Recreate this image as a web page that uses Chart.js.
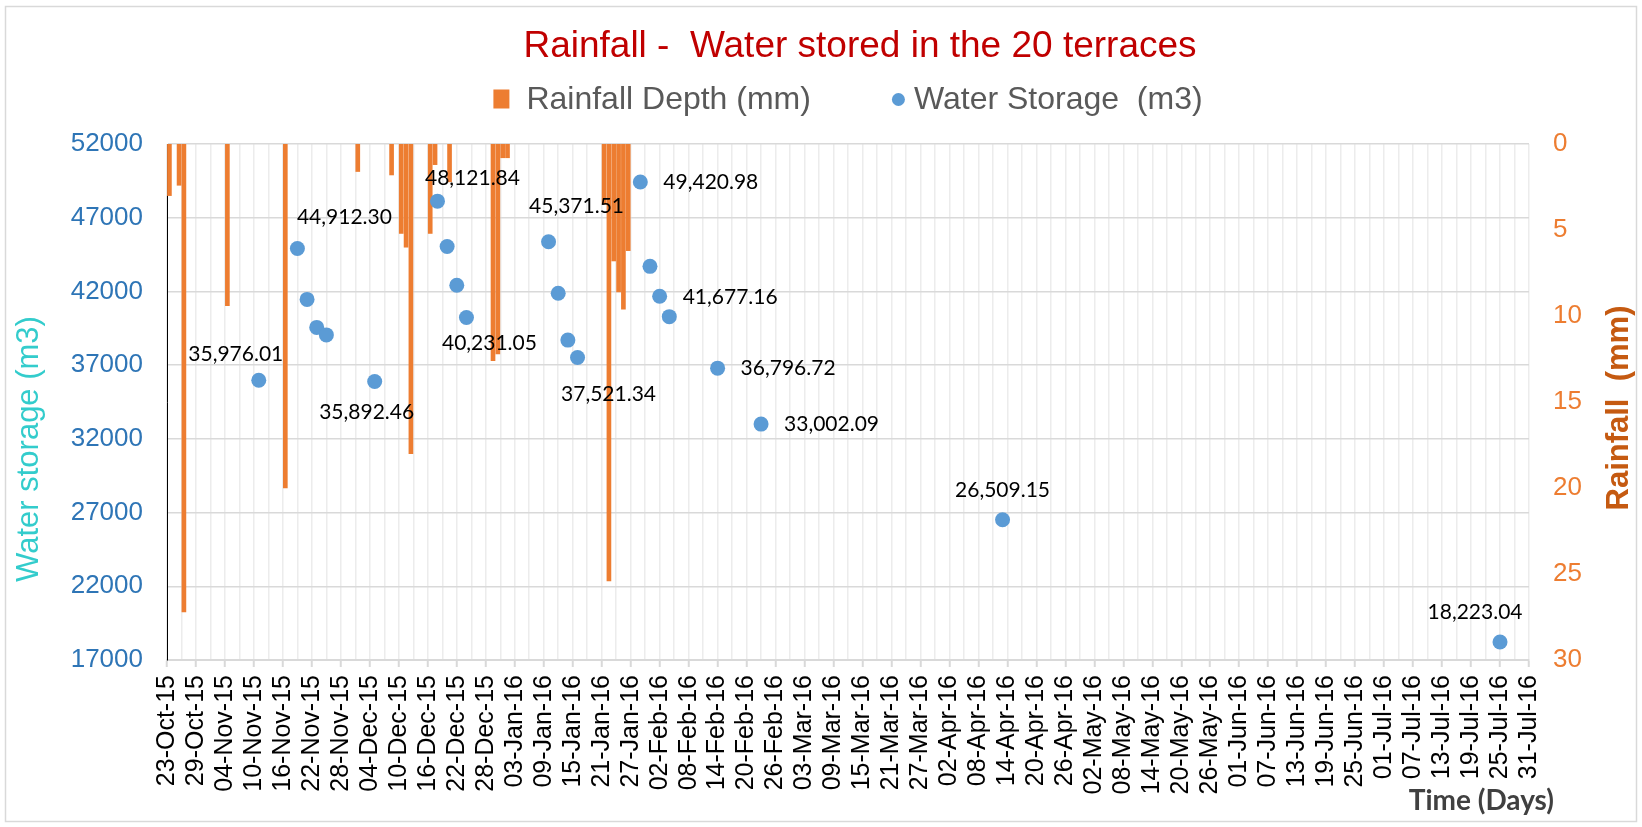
<!DOCTYPE html>
<html>
<head>
<meta charset="utf-8">
<script src="https://cdn.jsdelivr.net/npm/chart.js@4"></script>
<style>
  html, body { margin: 0; padding: 0; background: #ffffff; }
  #wrap { width: 1642px; height: 827px; }
</style>
</head>
<body>
<div id="wrap"><canvas id="myChart" width="1642" height="827"></canvas></div>
<script>
// --- data ---
var startDate = '2015-10-23';
var endDate = '2016-07-31';
var monthNames = ['Jan', 'Feb', 'Mar', 'Apr', 'May', 'Jun', 'Jul', 'Aug', 'Sep', 'Oct', 'Nov', 'Dec'];

var rainDates = ['2015-10-23', '2015-10-25', '2015-10-26', '2015-11-04', '2015-11-16',
    '2015-12-01', '2015-12-08', '2015-12-10', '2015-12-11', '2015-12-12', '2015-12-16',
    '2015-12-17', '2015-12-20', '2015-12-29', '2015-12-30', '2015-12-31', '2016-01-01',
    '2016-01-21', '2016-01-22', '2016-01-23', '2016-01-24', '2016-01-25', '2016-01-26'];
var rainDepth = [3.0, 2.4, 27.2, 9.4, 20.0,
    1.6, 1.8, 5.2, 6.0, 18.0, 5.2,
    1.2, 2.2, 12.6, 12.2, 0.8, 0.8,
    3.5, 25.4, 6.8, 8.6, 9.6, 6.2];

var storageDates = ['2015-11-11', '2015-11-19', '2015-11-21', '2015-11-23', '2015-11-25',
    '2015-12-05', '2015-12-18', '2015-12-20', '2015-12-22', '2015-12-24',
    '2016-01-10', '2016-01-12', '2016-01-14', '2016-01-16',
    '2016-01-29', '2016-01-31', '2016-02-02', '2016-02-04',
    '2016-02-14', '2016-02-23', '2016-04-13', '2016-07-25'];
var storageValues = [35976.01, 44912.30, 41460, 39560, 39050,
    35892.46, 48121.84, 45050, 42420, 40231.05,
    45371.51, 41880, 38700, 37521.34,
    49420.98, 43700, 41677.16, 40290,
    36796.72, 33002.09, 26509.15, 18223.04];

// which points carry a value label, and where it sits (dx, dy, align)
var labelPlacement = {
    0: [-23, -26, 'center'], 1: [47, -31, 'center'], 5: [-8, 31, 'center'],
    6: [35, -23, 'center'], 9: [23, 26, 'center'], 10: [28, -35, 'center'],
    13: [31, 37, 'center'], 14: [23, 0, 'left'], 16: [23, 1, 'left'],
    18: [23, 0, 'left'], 19: [23, 0, 'left'], 20: [0, -30, 'center'],
    21: [-25, -30, 'center']
};

var storageTicks = [17000, 52000, 5000];   // min, max, step
var rainTicks = [0, 30, 5];
var dayStep = 3;        // grid every 3 days, label every 6
var labelEvery = 6;

var titleText = 'Rainfall -  Water stored in the 20 terraces';
var legendLabels = ['Rainfall Depth (mm)', 'Water Storage  (m3)'];
var leftTitle = 'Water storage (m3)';
var rightTitle = 'Rainfall  (mm)';
var xTitle = 'Time (Days)';

var ARIAL = '"Liberation Sans", Arial, sans-serif';
var LATO = 'Lato, "Open Sans", sans-serif';

function utc(s) {
    var p = s.split('-');
    return Date.UTC(+p[0], +p[1] - 1, +p[2]);
}
function dayOf(s) {
    return Math.round((utc(s) - utc(startDate)) / 86400000);
}
function fmtDay(v) {
    var d = new Date(utc(startDate) + v * 86400000);
    var dd = ('0' + d.getUTCDate()).slice(-2);
    var yy = ('' + d.getUTCFullYear()).slice(-2);
    return dd + '-' + monthNames[d.getUTCMonth()] + '-' + yy;
}
function fmtVal(v) {
    return v.toLocaleString('en-US', {minimumFractionDigits: 2, maximumFractionDigits: 2});
}

// daily totals sit in the middle of their day
var rainPoints = rainDates.map(function (d, i) { return {x: dayOf(d) + 0.5, y: rainDepth[i]}; });
var storagePoints = storageDates.map(function (d, i) { return {x: dayOf(d), y: storageValues[i]}; });

var decor = {
    id: 'decor',
    beforeDraw: function (chart) {
        var ctx = chart.ctx;
        ctx.save();
        ctx.fillStyle = '#ffffff';
        ctx.fillRect(0, 0, chart.width, chart.height);
        ctx.strokeStyle = '#d9d9d9';
        ctx.lineWidth = 1.5;
        ctx.strokeRect(5.5, 6.5, chart.width - 11, chart.height - 12);
        ctx.restore();
    },
    afterDatasetsDraw: function (chart) {
        var ctx = chart.ctx;
        var meta = chart.getDatasetMeta(1);
        ctx.save();
        ctx.font = '21px ' + LATO;
        ctx.fillStyle = '#000000';
        ctx.textBaseline = 'middle';
        Object.keys(labelPlacement).forEach(function (k) {
            var pt = meta.data[+k];
            var pl = labelPlacement[k];
            ctx.textAlign = pl[2];
            ctx.fillText(fmtVal(storageValues[+k]), pt.x + pl[0], pt.y + pl[1]);
        });
        ctx.restore();
    },
    afterDraw: function (chart) {
        var ctx = chart.ctx;
        var area = chart.chartArea;
        var cx = (area.left + area.right) / 2;
        ctx.save();

        // title
        ctx.font = '37px ' + ARIAL;
        ctx.fillStyle = '#c00000';
        ctx.textAlign = 'center';
        ctx.textBaseline = 'alphabetic';
        ctx.fillText(titleText, cx + 12, 57);

        // legend
        ctx.font = '32px ' + ARIAL;
        ctx.textAlign = 'left';
        ctx.textBaseline = 'middle';
        var w1 = ctx.measureText(legendLabels[0]).width;
        var w2 = ctx.measureText(legendLabels[1]).width;
        var total = 16 + 17 + w1 + 81 + 13 + 9 + w2;
        var x = cx - total / 2;
        var ly = 99;
        ctx.fillStyle = chart.data.datasets[0].backgroundColor;
        ctx.fillRect(x, ly - 9.5, 16, 19);
        x += 33;
        ctx.fillStyle = '#595959';
        ctx.fillText(legendLabels[0], x, ly + 1);
        x += w1 + 81;
        ctx.fillStyle = chart.data.datasets[1].backgroundColor;
        ctx.beginPath();
        ctx.arc(x + 6.5, ly + 0.5, 6.5, 0, 2 * Math.PI);
        ctx.fill();
        x += 22;
        ctx.fillStyle = '#595959';
        ctx.fillText(legendLabels[1], x, ly + 1);

        // axis titles
        ctx.textAlign = 'center';
        ctx.save();
        ctx.translate(29, 449);
        ctx.rotate(-Math.PI / 2);
        ctx.font = '31px ' + ARIAL;
        ctx.fillStyle = '#33cccc';
        ctx.fillText(leftTitle, 0, 0);
        ctx.restore();

        ctx.save();
        ctx.translate(area.right + 90, 408);
        ctx.rotate(-Math.PI / 2);
        ctx.font = 'bold 31px ' + ARIAL;
        ctx.fillStyle = '#c55a11';
        ctx.fillText(rightTitle, 0, 0);
        ctx.restore();

        ctx.font = 'bold 28px ' + LATO;
        ctx.fillStyle = '#404040';
        ctx.textAlign = 'right';
        ctx.fillText(xTitle, area.right + 25, 801);
        ctx.restore();
    }
};

var ctx = document.getElementById('myChart').getContext('2d');

var chart = new Chart(ctx, {
    type: 'scatter',
    data: {
        datasets: [{
            type: 'bar',
            label: legendLabels[0],
            data: rainPoints,
            xAxisID: 'x',
            yAxisID: 'y2',
            backgroundColor: '#ed7d31',
            barThickness: 4,
            order: 2
        }, {
            type: 'scatter',
            label: legendLabels[1],
            data: storagePoints,
            xAxisID: 'x',
            yAxisID: 'y1',
            backgroundColor: '#5b9bd5',
            borderWidth: 0,
            pointRadius: 7.5,
            pointHoverRadius: 7.5,
            order: 1
        }]
    },
    options: {
        responsive: false,
        animation: false,
        events: [],
        layout: { padding: { top: 144, left: 0, right: 0, bottom: 0 } },
        plugins: {
            legend: { display: false },
            title: { display: false },
            tooltip: { enabled: false }
        },
        scales: {
            x: {
                type: 'linear',
                position: 'bottom',
                min: 0,
                max: dayOf(endDate),
                offset: false,
                afterFit: function (axis) { axis.height = 167; },
                ticks: {
                    stepSize: dayStep,
                    autoSkip: false,
                    minRotation: 90,
                    maxRotation: 90,
                    padding: 8,
                    color: '#000000',
                    font: { family: ARIAL, size: 25 },
                    callback: function (v) { return v % labelEvery === 0 ? fmtDay(v) : ''; }
                },
                grid: {
                    color: '#ececec',
                    lineWidth: 1.5,
                    offset: false,
                    drawTicks: true,
                    tickLength: 7,
                    tickWidth: 2,
                    tickColor: function (c) {
                        return c.tick && c.tick.value % labelEvery === 0 ? '#d9d9d9' : 'rgba(0,0,0,0)';
                    }
                },
                border: { display: true, color: '#d9d9d9', width: 2 }
            },
            y1: {
                type: 'linear',
                position: 'left',
                min: storageTicks[0],
                max: storageTicks[1],
                afterFit: function (axis) { axis.width = 167; },
                ticks: {
                    stepSize: storageTicks[2],
                    padding: 24,
                    color: '#2e75b6',
                    font: { family: ARIAL, size: 26 },
                    callback: function (v) { return '' + v; }
                },
                grid: { color: '#d9d9d9', lineWidth: 1.5, drawTicks: false },
                border: { display: true, color: '#000000', width: 1 }
            },
            y2: {
                type: 'linear',
                position: 'right',
                min: rainTicks[0],
                max: rainTicks[1],
                reverse: true,
                afterFit: function (axis) { axis.width = 113; },
                ticks: {
                    stepSize: rainTicks[2],
                    padding: 24,
                    color: '#ed7d31',
                    font: { family: ARIAL, size: 26 }
                },
                grid: { display: false, drawOnChartArea: false, drawTicks: false },
                border: { display: false }
            }
        }
    },
    plugins: [decor]
});
</script>
</body>
</html>
